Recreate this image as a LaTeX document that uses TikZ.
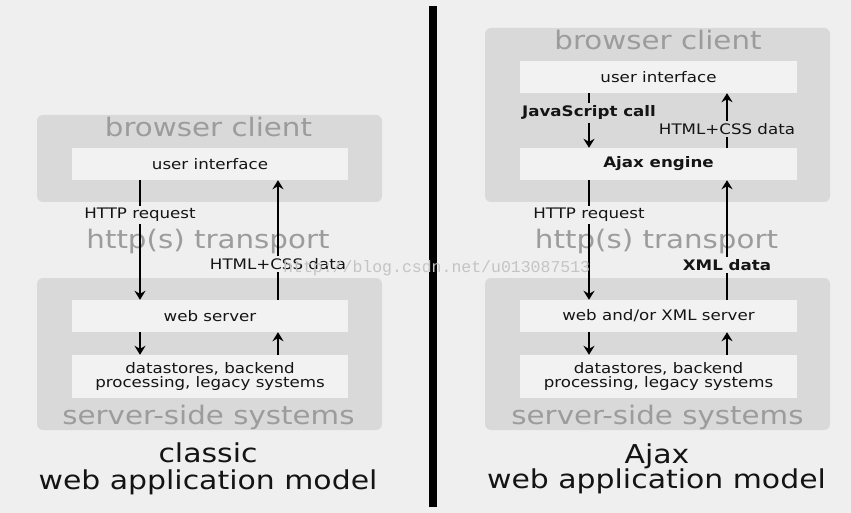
\documentclass[tikz,border=0pt]{standalone}
\usepackage{fontspec}
\setmainfont[FakeStretch=1.15]{DejaVu Sans}
\newfontfamily\wmfont{Liberation Mono}
\usetikzlibrary{arrows.meta}
\definecolor{bgc}{HTML}{EFEFEF}
\definecolor{outerc}{HTML}{D9D9D9}
\definecolor{innerc}{HTML}{F2F2F2}
\definecolor{titlec}{HTML}{9C9C9C}
\definecolor{labc}{HTML}{141414}
\definecolor{wmc}{HTML}{C4C4C4}
\begin{document}
\begin{tikzpicture}[x=1pt,y=-1pt,
  outerbox/.style={fill=outerc, rounded corners=6pt, inner sep=0pt, minimum width=345pt},
  innerbox/.style={fill=innerc, inner sep=0pt, minimum width=276pt, minimum height=32pt,
    text=labc, font=\fontsize{14.5}{16}\selectfont, align=center},
  bigtitle/.style={text=titlec, font=\fontsize{25.5}{28}\selectfont, inner sep=0pt, anchor=base},
  lab/.style={text=labc, font=\fontsize{14.5}{16}\selectfont, inner sep=2.5pt},
  blab/.style={lab, font=\fontsize{14.5}{16}\selectfont\bfseries},
  arr/.style={line width=1.9pt, -{Stealth[length=9pt,width=11pt,inset=3pt]}},
  ln/.style={line width=1.9pt},
  caption/.style={font=\fontsize{26}{28}\selectfont, text=black!92, inner sep=0pt, anchor=base},
  wm/.style={font=\wmfont\fontsize{16.5}{18}\selectfont, text=wmc, inner sep=0pt, anchor=base west}]

\fill[bgc] (0,0) rectangle (851,513);
\useasboundingbox (0,0) rectangle (851,513);

% divider
\draw[line width=8pt, black] (433,6) -- (433,507);

% ---------------- left: classic model ----------------
\node[outerbox, minimum height=87pt]  (bcA) at (209.5,158.5) {};
\node[outerbox, minimum height=152pt] (ssA) at (209.5,354) {};
\node[innerbox] (uiA) at (210,164) {user interface};
\node[innerbox] (wsA) at (210,316) {web server};
\node[innerbox, minimum height=43pt] (dsA) at (210,376.5) {datastores, backend\\[-2pt]processing, legacy systems};

\node[bigtitle] (tbcA) at (208.5,136.5) {browser client};
\node[bigtitle] (ttrA) at (208,248) {http(s) transport};
\node[bigtitle] (tssA) at (208.5,424) {server-side systems};

\node[lab] (hrA) at (140,215) {HTTP request};
\node[lab] (hcA) at (278,264) {HTML+CSS data};

\draw[ln]  (uiA.south -| hrA) -- (hrA.north);
\draw[arr] (hrA.south) -- (wsA.north -| hrA);
\draw[ln]  (wsA.north -| hcA) -- (hcA.south);
\draw[arr] (hcA.north) -- (uiA.south -| hcA);
\draw[arr] (wsA.south -| hrA) -- (dsA.north -| hrA);
\draw[arr] (dsA.north -| hcA) -- (wsA.south -| hcA);

\node[caption] (capA1) at (208,462) {classic};
\node[caption] (capA2) at (208,489) {web application model};

% ---------------- right: Ajax model ----------------
\node[outerbox, minimum height=174pt] (bcB) at (657.5,115) {};
\node[outerbox, minimum height=152pt] (ssB) at (657.5,354) {};
\node[innerbox, minimum width=277pt] (uiB) at (658.5,77) {user interface};
\node[innerbox, minimum width=277pt, font=\fontsize{14.5}{16}\selectfont\bfseries] (aeB) at (658.5,164) {Ajax engine};
\node[innerbox, minimum width=277pt] (wsB) at (658.5,316) {web and/or XML server};
\node[innerbox, minimum width=277pt, minimum height=43pt] (dsB) at (658.5,376.5) {datastores, backend\\[-2pt]processing, legacy systems};

\node[bigtitle] (tbcB) at (658,50) {browser client};
\node[bigtitle] (ttrB) at (656.5,248) {http(s) transport};
\node[bigtitle] (tssB) at (657.5,424) {server-side systems};

\node[blab] (jsB) at (589,113) {JavaScript call};
\node[lab]  (hcB) at (727,129) {HTML+CSS data};
\node[lab]  (hrB) at (589,215) {HTTP request};
\node[blab] (xmB) at (727,265) {XML data};

\draw[ln]  (uiB.south -| jsB) -- (jsB.north);
\draw[arr] (jsB.south) -- (aeB.north -| jsB);
\draw[ln]  (aeB.north -| hcB) -- (hcB.south);
\draw[arr] (hcB.north) -- (uiB.south -| hcB);
\draw[ln]  (aeB.south -| hrB) -- (hrB.north);
\draw[arr] (hrB.south) -- (wsB.north -| hrB);
\draw[ln]  (wsB.north -| xmB) -- (xmB.south);
\draw[arr] (xmB.north) -- (aeB.south -| xmB);
\draw[arr] (wsB.south -| hrB) -- (dsB.north -| hrB);
\draw[arr] (dsB.north -| xmB) -- (wsB.south -| xmB);

\node[caption] (capB1) at (657,463) {Ajax};
\node[caption] (capB2) at (656.5,488) {web application model};

% watermark
\node[wm] (wmark) at (283,272) {http://blog.csdn.net/u013087513};
\end{tikzpicture}
\end{document}
